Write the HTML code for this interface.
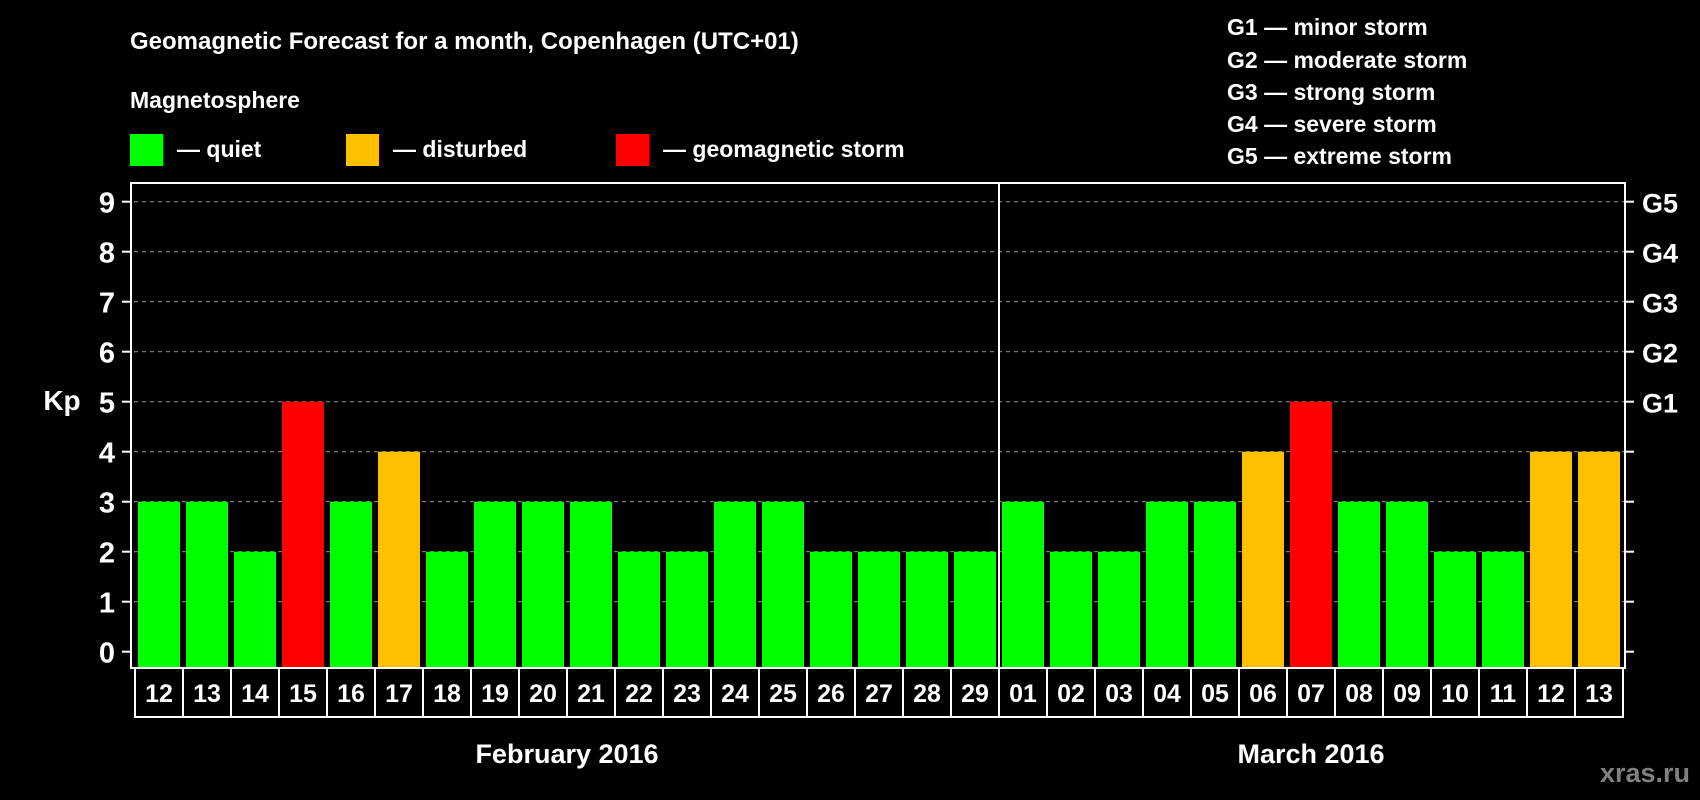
<!DOCTYPE html>
<html><head><meta charset="utf-8"><style>
html,body{margin:0;padding:0;background:#000;}
svg{display:block;font-family:"Liberation Sans",Arial,sans-serif;font-weight:bold;}
</style></head><body>
<svg id="chart" width="1700" height="800" viewBox="0 0 1700 800">
<rect width="1700" height="800" fill="#000"/>
<text x="130" y="49" fill="#fff" font-size="24">Geomagnetic Forecast for a month, Copenhagen (UTC+01)</text>
<text x="130" y="108" fill="#fff" font-size="23">Magnetosphere</text>
<g><rect x="130" y="134" width="33" height="32" fill="#00ff00"/><text x="177" y="157" fill="#fff" font-size="23">— quiet</text></g>
<g><rect x="346" y="134" width="33" height="32" fill="#ffc000"/><text x="393" y="157" fill="#fff" font-size="23">— disturbed</text></g>
<g><rect x="616" y="134" width="33" height="32" fill="#ff0000"/><text x="663" y="157" fill="#fff" font-size="23">— geomagnetic storm</text></g>
<g fill="#fff" font-size="23">
<text x="1227" y="35">G1 — minor storm</text>
<text x="1227" y="68">G2 — moderate storm</text>
<text x="1227" y="100">G3 — strong storm</text>
<text x="1227" y="132">G4 — severe storm</text>
<text x="1227" y="164">G5 — extreme storm</text>
</g>
<text x="62" y="410" fill="#fff" font-size="28" text-anchor="middle">Kp</text>
<text x="567" y="763" fill="#fff" font-size="27" text-anchor="middle">February 2016</text>
<text x="1311" y="763" fill="#fff" font-size="27" text-anchor="middle">March 2016</text>
<text x="1690" y="782" fill="#808080" font-size="27" text-anchor="end">xras.ru</text>
<g id="plot"></g>
</svg>
<script>
const days=["12","13","14","15","16","17","18","19","20","21","22","23","24","25","26","27","28","29","01","02","03","04","05","06","07","08","09","10","11","12","13"];
const kp=[3,3,2,5,3,4,2,3,3,3,2,2,3,3,2,2,2,2,3,2,2,3,3,4,5,3,3,2,2,4,4];
const yTicks=[0,1,2,3,4,5,6,7,8,9];
const gLabels=["","","","","","G1","G2","G3","G4","G5"];
const NS="http://www.w3.org/2000/svg";
const plot=document.getElementById('plot');
const X0=135,PITCH=48,Y0=651.7,UNIT=50;
const xs=i=>X0+i*PITCH;
const ys=v=>Y0-v*UNIT;
function mk(tag,attrs){const e=document.createElementNS(NS,tag);for(const k in attrs)e.setAttribute(k,attrs[k]);plot.appendChild(e);return e;}
yTicks.forEach((t,i)=>{
  const y=ys(t);
  if(t>0&&t<=9&&t!==0){const g=mk('line',{x1:134,x2:1625,y1:y,y2:y,stroke:'#888','stroke-width':1.2,'stroke-dasharray':'4,4'});
  
  }
  const l=mk('line',{x1:122,x2:131,y1:y,y2:y,stroke:'#fff','stroke-width':2});
  
  
  const r=mk('line',{x1:1625,x2:1634,y1:y,y2:y,stroke:'#fff','stroke-width':2});
  
  
  const tx=mk('text',{x:107,y:y+11,fill:'#fff','font-size':29,'text-anchor':'middle'});tx.textContent=t;
  
  
  if(gLabels[i]){const g2=mk('text',{x:1642,y:y+11,fill:'#fff','font-size':27});g2.textContent=gLabels[i];
  
  }
});
kp.forEach((v,i)=>{
  const c=v>=5?'#ff0000':(v>=4?'#ffc000':'#00ff00');
  const b=mk('rect',{x:xs(i)+3,y:ys(v),width:42,height:667-ys(v),fill:c});
  
  
  const cell=mk('rect',{x:xs(i),y:668,width:PITCH,height:49,fill:'none',stroke:'#fff','stroke-width':2});
  
  
  const t=mk('text',{x:xs(i)+PITCH/2,y:702,fill:'#fff','font-size':25,'text-anchor':'middle'});t.textContent=days[i];
  
  
});
const frame=mk('rect',{x:131,y:183,width:1494,height:485,fill:'none',stroke:'#fff','stroke-width':2});


const div=mk('line',{x1:xs(18),x2:xs(18),y1:183,y2:668,stroke:'#fff','stroke-width':2});


</script>
</body></html>
